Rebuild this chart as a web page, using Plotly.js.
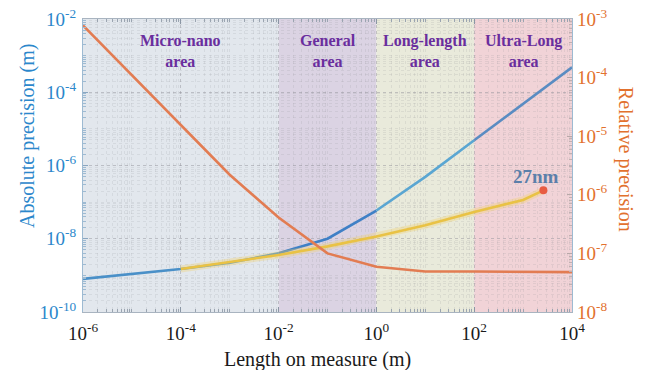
<!DOCTYPE html>
<html>
<head>
<meta charset="utf-8">
<script src="https://cdn.plot.ly/plotly-3.0.1.min.js"></script>
<style>
  html, body { margin: 0; padding: 0; background: #ffffff; }
  #chart { width: 647px; height: 370px; }
</style>
</head>
<body>
<div id="chart"></div>
<script>
// Measurement length (m), one point per decade
const lengths = [1e-6, 1e-5, 1e-4, 1e-3, 1e-2, 1e-1, 1e0, 1e1, 1e2, 1e3, 1e4];
// Absolute precision (m), left axis
const absolutePrecision = [8e-10, 1.1e-9, 1.5e-9, 2.2e-9, 4e-9, 1e-8, 5.9e-8, 4.9e-7, 4.9e-6, 4.9e-5, 4.8e-4];
// Relative precision, right axis
const relativePrecision = [7.8e-4, 1.1e-4, 1.5e-5, 2.2e-6, 4.1e-7, 1e-7, 5.9e-8, 4.9e-8, 4.9e-8, 4.9e-8, 4.8e-8];

// Trend of the proposed method (absolute precision, m)
const trendLengths = [1e-4, 1e-3, 1e-2, 1e-1, 1e0, 1e1, 1e2, 1e3, 2.6e3];
const trendPrecision = [1.5e-9, 2.3e-9, 3.6e-9, 6.2e-9, 1.15e-8, 2.35e-8, 5.4e-8, 1.15e-7, 2.1e-7];
const endLength = 2.6e3;
const endPrecision = 2.1e-7;
const endLabel = '27nm';

// Tick positions and labels
const xTickVals = [1e-6, 1e-4, 1e-2, 1e0, 1e2, 1e4];
const xTickText = ['10<sup>-6</sup>', '10<sup>-4</sup>', '10<sup>-2</sup>', '10<sup>0</sup>', '10<sup>2</sup>', '10<sup>4</sup>'];
const yTickVals = [1e-10, 1e-8, 1e-6, 1e-4, 1e-2];
const yTickText = ['10<sup>-10</sup>', '10<sup>-8</sup>', '10<sup>-6</sup>', '10<sup>-4</sup>', '10<sup>-2</sup>'];
const y2TickVals = [1e-8, 1e-7, 1e-6, 1e-5, 1e-4, 1e-3];
const y2TickText = ['10<sup>-8</sup>', '10<sup>-7</sup>', '10<sup>-6</sup>', '10<sup>-5</sup>', '10<sup>-4</sup>', '10<sup>-3</sup>'];

// Application areas along the length axis
const areaNames = ['Micro-nano<br>area', 'General<br>area', 'Long-length<br>area', 'Ultra-Long<br>area'];
const areaStart = [1e-6, 1e-2, 1e0, 1e2];
const areaEnd = [1e-2, 1e0, 1e2, 1e4];
const areaFill = ['#e2e7ed', '#dbd3e3', '#e9eadb', '#f1d3d7'];
const blueShades = ['#4a90c8', '#3f80c6', '#5aa6d2', '#5a8cc2'];

const serif = '"Liberation Serif", "Times New Roman", Times, serif';
const traces = [];

traces.push({
  x: lengths, y: relativePrecision, yaxis: 'y2', type: 'scatter', mode: 'lines',
  line: {color: '#e27c52', width: 2.6}, hoverinfo: 'skip', showlegend: false
});

// absolute precision, coloured per area
areaStart.forEach((s, i) => {
  const xs = [], ys = [];
  lengths.forEach((L, k) => {
    if (L >= s && L <= areaEnd[i]) { xs.push(L); ys.push(absolutePrecision[k]); }
  });
  traces.push({
    x: xs, y: ys, type: 'scatter', mode: 'lines',
    line: {color: blueShades[i], width: 2.6}, hoverinfo: 'skip', showlegend: false
  });
});

// soft halo under the trend line
traces.push({
  x: trendLengths, y: trendPrecision, type: 'scatter', mode: 'lines',
  line: {color: 'rgba(240,210,110,0.35)', width: 7}, hoverinfo: 'skip', showlegend: false
});
traces.push({
  x: trendLengths, y: trendPrecision, type: 'scatter', mode: 'lines',
  line: {color: '#e9c245', width: 2.6}, hoverinfo: 'skip', showlegend: false
});
traces.push({
  x: [endLength], y: [endPrecision], type: 'scatter', mode: 'markers',
  marker: {color: '#e85c42', size: 8}, hoverinfo: 'skip', showlegend: false
});

const shapes = areaStart.map((s, i) => ({
  type: 'rect', xref: 'x', yref: 'paper', x0: s, x1: areaEnd[i], y0: 0, y1: 1,
  fillcolor: areaFill[i], line: {width: 0}, layer: 'below'
}));

const annotations = areaNames.map((name, i) => ({
  xref: 'x', yref: 'paper',
  x: (Math.log10(areaStart[i]) + Math.log10(areaEnd[i])) / 2, y: 0.89,
  text: '<b>' + name + '</b>', showarrow: false, xanchor: 'center', yanchor: 'middle',
  font: {family: serif, size: 16, color: '#6a2e9e'}
}));

annotations.push({
  xref: 'x', yref: 'y', x: Math.log10(endLength), y: Math.log10(endPrecision),
  text: '<b>' + endLabel + '</b>', showarrow: false, xanchor: 'center', yanchor: 'bottom',
  xshift: -7, yshift: 1,
  font: {family: serif, size: 19, color: '#5b7faa'}
});

// axis titles
annotations.push({
  xref: 'paper', yref: 'paper', x: -0.115, y: 0.60, textangle: -90,
  text: 'Absolute precision (m)', showarrow: false, xanchor: 'center', yanchor: 'middle',
  font: {family: serif, size: 20, color: '#2b87cb'}
});
annotations.push({
  xref: 'paper', yref: 'paper', x: 1.11, y: 0.52, textangle: 90,
  text: 'Relative precision', showarrow: false, xanchor: 'center', yanchor: 'middle',
  font: {family: serif, size: 20, color: '#e2712e'}
});
annotations.push({
  xref: 'paper', yref: 'paper', x: 0.48, y: -0.115,
  text: 'Length on measure (m)', showarrow: false, xanchor: 'center', yanchor: 'top',
  font: {family: serif, size: 20, color: '#1a1a1a'}
});

const gridMajor = 'rgba(140,140,150,0.35)';
const gridMinor = 'rgba(140,140,150,0.16)';

const layout = {
  width: 647, height: 370,
  margin: {l: 83, r: 75, t: 19, b: 58},
  paper_bgcolor: '#ffffff', plot_bgcolor: 'rgba(0,0,0,0)',
  showlegend: false,
  font: {family: serif},
  xaxis: {
    type: 'log', range: [-6, 4], tickmode: 'array', tickvals: xTickVals, ticktext: xTickText,
    ticks: 'inside', ticklen: 5, tickcolor: '#8a96a4', showline: true, linecolor: '#a9b4c0', mirror: 'ticks',
    showgrid: true, gridcolor: gridMajor, griddash: 'dot', zeroline: false, ticklabelstandoff: 4,
    tickfont: {family: serif, size: 19, color: '#1a1a1a'},
    minor: {dtick: 'D1', ticks: 'inside', ticklen: 3, tickcolor: '#9aa4b0', showgrid: true, gridcolor: gridMinor, griddash: 'dot'}
  },
  yaxis: {
    type: 'log', range: [-10, -2], tickmode: 'array', tickvals: yTickVals, ticktext: yTickText,
    ticks: 'inside', ticklen: 5, tickcolor: '#8aa6c0', showline: true, linecolor: '#9dbad2', mirror: true,
    showgrid: true, gridcolor: gridMajor, griddash: 'dot', zeroline: false, ticklabelstandoff: 2,
    tickfont: {family: serif, size: 19, color: '#2b87cb'},
    minor: {dtick: 'D1', ticks: 'inside', ticklen: 3, tickcolor: '#9dbad2', showgrid: true, gridcolor: gridMinor, griddash: 'dot'}
  },
  yaxis2: {
    type: 'log', range: [-8, -3], tickmode: 'array', tickvals: y2TickVals, ticktext: y2TickText,
    overlaying: 'y', side: 'right',
    ticks: 'inside', ticklen: 5, tickcolor: '#b8a8a8', showline: false, ticklabelstandoff: 4,
    showgrid: false, zeroline: false,
    tickfont: {family: serif, size: 19, color: '#e2712e'},
    minor: {dtick: 'D1', ticks: 'inside', ticklen: 3, tickcolor: '#c0b0b0', showgrid: false}
  },
  shapes: shapes,
  annotations: annotations
};

Plotly.newPlot('chart', traces, layout, {displayModeBar: false, staticPlot: true});
</script>
</body>
</html>
